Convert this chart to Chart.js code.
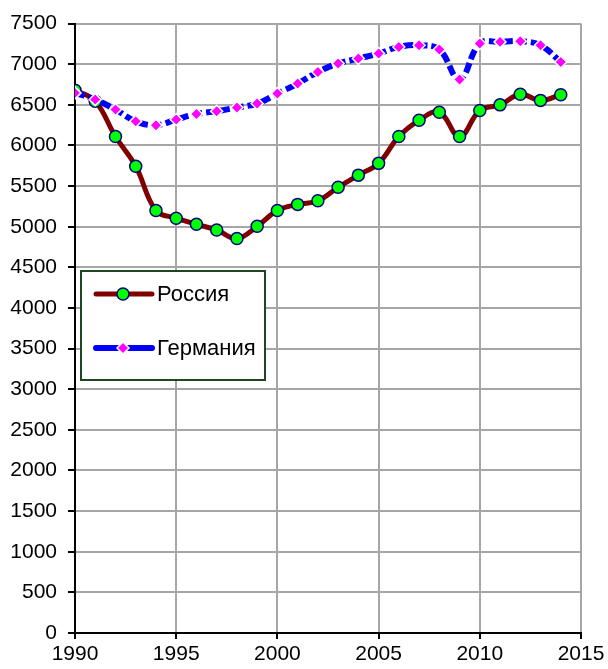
<!DOCTYPE html>
<html>
<head>
<meta charset="utf-8">
<script src="https://cdn.jsdelivr.net/npm/chart.js@4/dist/chart.umd.min.js"></script>
<style>
  html, body { margin: 0; padding: 0; background: #ffffff; }
  #wrap { width: 608px; height: 669px; position: relative; }
</style>
</head>
<body>
<div id="wrap"><canvas id="c" width="608" height="669"></canvas></div>
<script>
// Years and yearly values per country
const years = [1990, 1991, 1992, 1993, 1994, 1995, 1996, 1997, 1998, 1999,
               2000, 2001, 2002, 2003, 2004, 2005, 2006, 2007, 2008, 2009,
               2010, 2011, 2012, 2013, 2014];
const russia = [6680, 6545, 6110, 5745, 5200, 5105, 5030, 4960, 4855, 5005,
                5200, 5275, 5320, 5485, 5635, 5780, 6110, 6310, 6410, 6110,
                6430, 6500, 6630, 6555, 6625];
const germany = [6647, 6565, 6442, 6298, 6249, 6319, 6388, 6421, 6467, 6516,
                 6639, 6762, 6905, 7008, 7070, 7132, 7213, 7234, 7181, 6812,
                 7255, 7275, 7283, 7234, 7028];
const seriesNames = ["Россия", "Германия"];
const xTicks = [1990, 1995, 2000, 2005, 2010, 2015];
const yMax = 7500, yStep = 500;

const FONT = "'Liberation Sans', Arial, sans-serif";

const toPoints = vals => years.map((y, i) => ({ x: y, y: vals[i] }));

// Legend box drawn inside the plot area
const boxLegend = {
  id: 'boxLegend',
  afterDatasetsDraw(chart) {
    const ctx = chart.ctx;
    const x0 = 81, y0 = 271, w = 184, h = 109;
    ctx.save();
    ctx.fillStyle = '#ffffff';
    ctx.fillRect(x0, y0, w, h);
    ctx.strokeStyle = '#1e4620';
    ctx.lineWidth = 2;
    ctx.strokeRect(x0, y0, w, h);
    const rows = [294, 348];
    chart.data.datasets.forEach((ds, i) => {
      const y = rows[i];
      ctx.save();
      ctx.strokeStyle = ds.borderColor;
      ctx.lineWidth = ds.borderWidth;
      ctx.lineCap = 'round';
      ctx.beginPath();
      ctx.moveTo(96, y);
      ctx.lineTo(152, y);
      ctx.stroke();
      ctx.restore();
      ctx.save();
      ctx.fillStyle = ds.pointBackgroundColor;
      ctx.strokeStyle = ds.pointBorderColor;
      ctx.lineWidth = ds.pointBorderWidth;
      ctx.beginPath();
      if (ds.pointStyle === 'circle') {
        ctx.arc(123, y, ds.pointRadius, 0, Math.PI * 2);
      } else {
        const r = ds.pointRadius;
        ctx.moveTo(123, y - r); ctx.lineTo(123 + r, y);
        ctx.lineTo(123, y + r); ctx.lineTo(123 - r, y); ctx.closePath();
      }
      ctx.fill();
      ctx.stroke();
      ctx.restore();
      ctx.fillStyle = '#000000';
      ctx.font = '22px ' + FONT;
      ctx.textAlign = 'left';
      ctx.textBaseline = 'middle';
      ctx.fillText(ds.label, 157, y + 1);
    });
    ctx.restore();
  }
};

new Chart(document.getElementById('c'), {
  type: 'line',
  data: {
    datasets: [
      {
        label: seriesNames[0],
        data: toPoints(russia),
        borderColor: '#800000',
        borderWidth: 5,
        tension: 0.4,
        pointStyle: 'circle',
        pointRadius: 6,
        pointBackgroundColor: '#00ff00',
        pointBorderColor: '#000080',
        pointBorderWidth: 1.5,
        order: 2
      },
      {
        label: seriesNames[1],
        data: toPoints(germany),
        borderColor: '#0000ff',
        borderWidth: 6,
        borderDash: [10, 4],
        tension: 0.4,
        pointStyle: 'rectRot',
        pointRadius: 6,
        pointBackgroundColor: '#ff00ff',
        pointBorderColor: '#ffffff',
        pointBorderWidth: 1.5,
        order: 1
      }
    ]
  },
  options: {
    responsive: false,
    animation: false,
    devicePixelRatio: 1,
    layout: { padding: { top: 23, right: 27, left: 0, bottom: 0 } },
    plugins: { legend: { display: false }, tooltip: { enabled: false } },
    scales: {
      x: {
        type: 'linear',
        min: xTicks[0],
        max: xTicks[xTicks.length - 1],
        afterBuildTicks: s => { s.ticks = xTicks.map(v => ({ value: v })); },
        afterFit: s => { s.height = 36; },
        grid: { color: '#a6a6a6', lineWidth: 2, tickColor: '#000000', tickLength: 6, tickWidth: 2 },
        border: { color: '#000000', width: 2 },
        ticks: {
          color: '#000000', font: { family: FONT, size: 21 }, padding: 3,
          maxRotation: 0, autoSkip: false,
          callback: v => String(v)
        }
      },
      y: {
        min: 0,
        max: yMax,
        ticks: {
          stepSize: yStep, color: '#000000', font: { family: FONT, size: 21 }, padding: 11,
          callback: v => String(v)
        },
        afterFit: s => { s.width = 75; },
        grid: { color: '#a6a6a6', lineWidth: 2, tickColor: '#000000', tickLength: 7, tickWidth: 2 },
        border: { color: '#000000', width: 2 }
      }
    }
  },
  plugins: [boxLegend]
});
</script>
</body>
</html>
